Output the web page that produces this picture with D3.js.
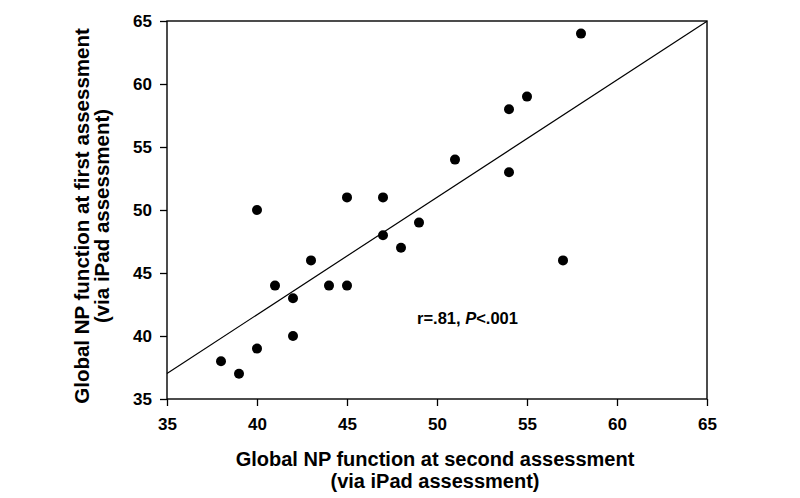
<!DOCTYPE html>
<html>
<head>
<meta charset="utf-8">
<script src="https://cdn.jsdelivr.net/npm/d3@7/dist/d3.min.js"></script>
<style>
  html, body { margin: 0; padding: 0; background: #fff; }
  svg { display: block; font-family: "Liberation Sans", Arial, Helvetica, sans-serif; }
</style>
</head>
<body>
<svg id="chart" width="800" height="498"></svg>
<script>
// Data
const secondAssessment = [38, 39, 40, 40, 41, 42, 42, 43, 44, 45, 45, 47, 47, 48, 49, 51, 54, 54, 55, 57, 58];
const firstAssessment  = [38, 37, 39, 50, 44, 43, 40, 46, 44, 44, 51, 51, 48, 47, 49, 54, 58, 53, 59, 46, 64];
const xTicks = [35, 40, 45, 50, 55, 60, 65];
const yTicks = [35, 40, 45, 50, 55, 60, 65];
const xTitle = ["Global NP function at second assessment", "(via iPad assessment)"];
const yTitle = ["Global NP function at first assessment", "(via iPad assessment)"];
const annotationParts = ["r=.81, ", "P", "<.001"];

(function () {
  const svg = d3.select("#chart");
  const pLeft = 167, pRight = 707, pTop = 21, pBottom = 399;

  const x = d3.scaleLinear().domain([35, 65]).range([pLeft, pRight]);
  const y = d3.scaleLinear().domain([35, 65]).range([pBottom, pTop]);

  // Axes
  const xAxis = d3.axisBottom(x).tickValues(xTicks).tickSize(7).tickPadding(12);
  const yAxis = d3.axisLeft(y).tickValues(yTicks).tickSize(7).tickPadding(8);

  const gx = svg.append("g").attr("transform", `translate(0,${pBottom})`).call(xAxis);
  const gy = svg.append("g").attr("transform", `translate(${pLeft},0)`).call(yAxis);
  [gx, gy].forEach(g => {
    g.select(".domain").remove();
    g.selectAll(".tick line").attr("stroke", "#000").attr("stroke-width", 1.3);
    g.selectAll(".tick text").attr("fill", "#000")
      .style("font-size", "17px").style("font-weight", "bold")
      .style("font-family", '"Liberation Sans", Arial, sans-serif');
  });

  // Frame
  svg.append("rect")
    .attr("x", pLeft).attr("y", pTop)
    .attr("width", pRight - pLeft).attr("height", pBottom - pTop)
    .attr("fill", "none").attr("stroke", "#000").attr("stroke-width", 1.4);

  // Regression line (least squares fit of the data)
  const n = secondAssessment.length;
  const mx = d3.mean(secondAssessment), my = d3.mean(firstAssessment);
  let sxy = 0, sxx = 0;
  for (let i = 0; i < n; i++) {
    sxy += (secondAssessment[i] - mx) * (firstAssessment[i] - my);
    sxx += (secondAssessment[i] - mx) ** 2;
  }
  const slope = sxy / sxx, intercept = my - slope * mx;
  const [x0, x1] = x.domain();
  svg.append("line")
    .attr("x1", x(x0)).attr("y1", y(intercept + slope * x0))
    .attr("x2", x(x1)).attr("y2", y(intercept + slope * x1))
    .attr("stroke", "#000").attr("stroke-width", 1.2);

  // Points
  svg.append("g").selectAll("circle")
    .data(d3.range(n))
    .join("circle")
    .attr("cx", i => x(secondAssessment[i]))
    .attr("cy", i => y(firstAssessment[i]))
    .attr("r", 5)
    .attr("fill", "#000");

  // Annotation
  const ann = svg.append("text")
    .attr("x", 417).attr("y", 324)
    .attr("fill", "#000")
    .style("font-size", "16.5px").style("font-weight", "bold");
  ann.append("tspan").text(annotationParts[0]);
  ann.append("tspan").style("font-style", "italic").text(annotationParts[1]);
  ann.append("tspan").text(annotationParts[2]);

  // X title
  const xt = svg.append("text")
    .attr("text-anchor", "middle")
    .attr("fill", "#000")
    .style("font-size", "20px").style("font-weight", "bold");
  xTitle.forEach((t, i) => {
    xt.append("tspan").attr("x", 435).attr("y", 466 + i * 22).text(t);
  });

  // Y title
  const yt = svg.append("text")
    .attr("text-anchor", "middle")
    .attr("transform", "rotate(-90)")
    .attr("fill", "#000")
    .style("font-size", "20.5px").style("font-weight", "bold");
  yTitle.forEach((t, i) => {
    yt.append("tspan").attr("x", -216).attr("y", 89 + i * 20).text(t);
  });
})();
</script>
</body>
</html>
